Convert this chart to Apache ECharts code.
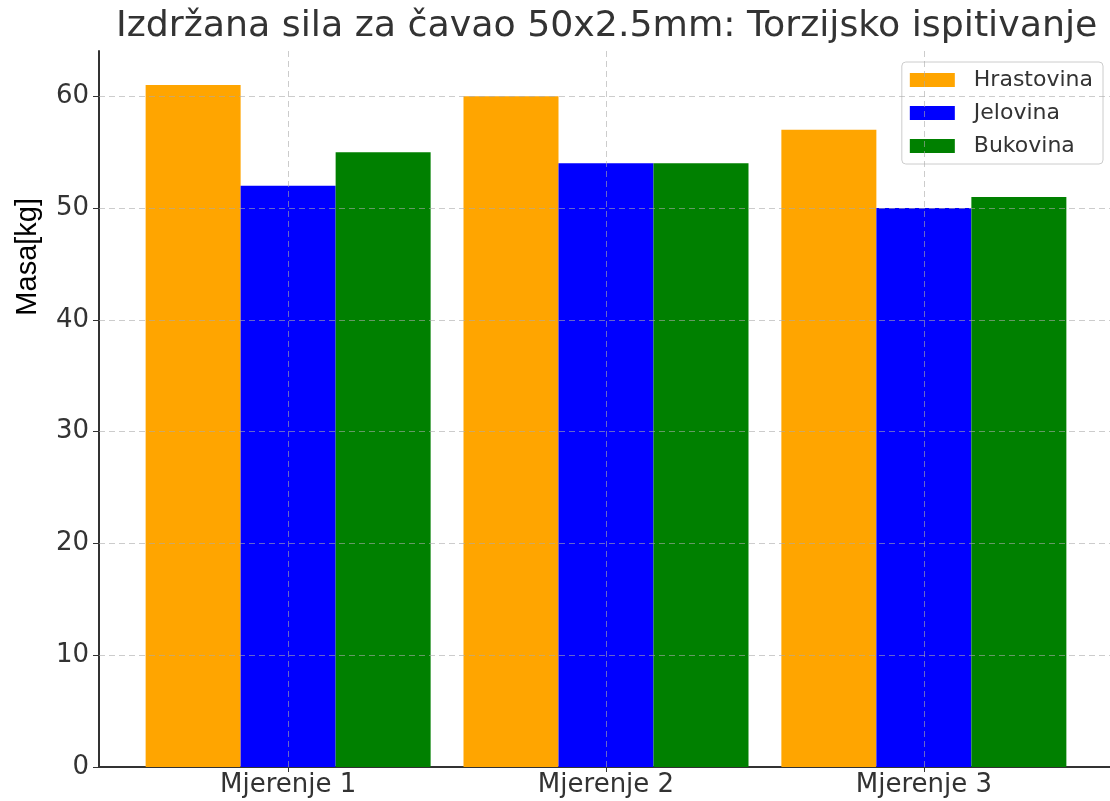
<!DOCTYPE html>
<html>
<head>
<meta charset="utf-8">
<script src="https://cdn.jsdelivr.net/npm/echarts@6/dist/echarts.min.js"></script>
<style>
  html, body { margin: 0; padding: 0; background: #fff; }
  #chart { width: 1110px; height: 801px; }
</style>
</head>
<body>
<div id="chart"></div>
<script>
const categories = ["Mjerenje 1", "Mjerenje 2", "Mjerenje 3"];
const seriesNames = ["Hrastovina", "Jelovina", "Bukovina"];
const hrastovina = [61, 60, 57];
const jelovina = [52, 54, 50];
const bukovina = [55, 54, 51];
const yTicks = [0, 10, 20, 30, 40, 50, 60];
const xTicks = [0, 1, 2];
const colors = ["#ffa500", "#0000ff", "#008000"];

const font = "DejaVu Sans";
const chart = echarts.init(document.getElementById("chart"));

// x positions are category indexes on a value axis, so the padding matches matplotlib
const toPoints = (vals) => vals.map((v, i) => [i, v]);
const allValues = [...hrastovina, ...jelovina, ...bukovina];
const yMax = Math.max(...allValues) * 1.05;

// grid is drawn above the bars, like in the original plot
const gridLines = [
  ...yTicks.slice(1).map((v) => ({ yAxis: v })),
  ...xTicks.map((v) => ({ xAxis: v })),
];

const series = [hrastovina, jelovina, bukovina].map((vals, k) => ({
  name: seriesNames[k],
  type: "bar",
  data: toPoints(vals),
  barWidth: 95,
  barGap: "0%",
  itemStyle: { color: colors[k] },
}));
// middle series has no bar offset, so its markers sit on the category centres
series[1].markLine = {
  silent: true,
  symbol: "none",
  label: { show: false },
  lineStyle: { color: "rgba(170,170,170,0.6)", type: [6, 4], width: 1 },
  data: gridLines,
  z: 10,
};

chart.setOption({
  animation: false,
  title: {
    text: "Izdržana sila za čavao 50x2.5mm: Torzijsko ispitivanje",
    left: 116,
    top: 9,
    padding: 0,
    textStyle: { fontFamily: font, fontSize: 36.3, fontWeight: "normal", color: "#333" },
  },
  legend: {
    data: seriesNames,
    orient: "vertical",
    right: 7,
    top: 62,
    icon: "rect",
    itemWidth: 45,
    itemHeight: 14,
    itemGap: 11,
    padding: [7, 10, 7, 8],
    borderColor: "#cccccc",
    borderWidth: 1,
    borderRadius: 4,
    backgroundColor: "rgba(255,255,255,0.85)",
    textStyle: { fontFamily: font, fontSize: 22, color: "#333", padding: [0, 0, 0, 14] },
  },
  graphic: [{
    type: "text",
    left: 13,
    top: 198,
    rotation: Math.PI / 2,
    style: { text: "Masa[kg]", font: "29px 'Liberation Sans'", fill: "#000" },
  }],
  grid: { left: 99, right: -3, top: 51, bottom: 34, containLabel: false, outerBoundsMode: "none" },
  xAxis: {
    type: "value",
    min: -0.595,
    max: 2.595,
    axisLine: { show: true, onZero: false, lineStyle: { color: "#333", width: 2 } },
    axisTick: { show: true, length: 5, lineStyle: { color: "#333" }, customValues: xTicks },
    axisLabel: {
      customValues: xTicks,
      formatter: (v) => categories[Math.round(v)],
      fontFamily: font,
      fontSize: 26,
      color: "#333",
      margin: 5,
    },
    splitLine: { show: false },
  },
  yAxis: {
    type: "value",
    min: 0,
    max: yMax,
    axisLine: { show: true, onZero: false, lineStyle: { color: "#333", width: 2 } },
    axisTick: { show: true, length: 6, lineStyle: { color: "#333" }, customValues: yTicks },
    axisLabel: { customValues: yTicks, fontFamily: font, fontSize: 26, color: "#333", margin: 10 },
    splitLine: { show: false },
  },
  series: series,
});
</script>
</body>
</html>
